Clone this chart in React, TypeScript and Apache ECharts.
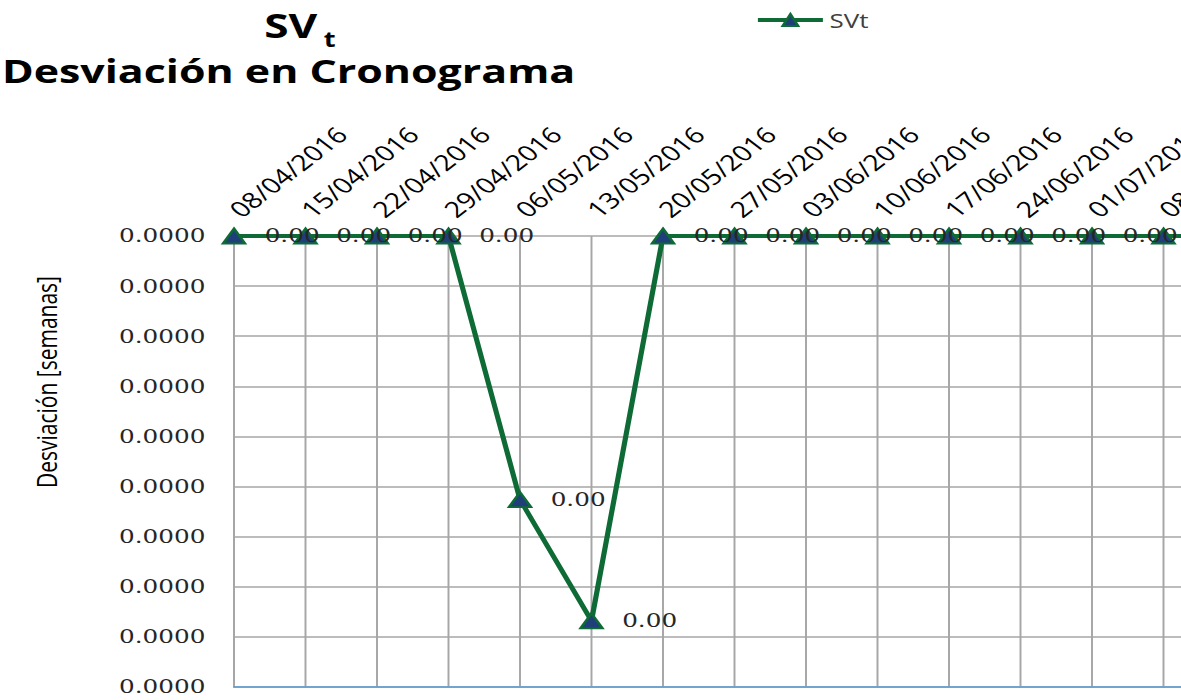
import React, { useEffect, useRef } from "react";
import * as echarts from "echarts";

const categories = [
  "08/04/2016", "15/04/2016", "22/04/2016", "29/04/2016", "06/05/2016",
  "13/05/2016", "20/05/2016", "27/05/2016", "03/06/2016", "10/06/2016",
  "17/06/2016", "24/06/2016", "01/07/2016", "08/07/2016", "15/07/2016",
];
const svtValues = [0, 0, 0, 0, -0.0000263, -0.0000384, 0, 0, 0, 0, 0, 0, 0, 0, 0];
const yMin = -0.000045;
const yMax = 0;
const yInterval = 0.000005;
const seriesName = "SVt";
const titleMain = "SV";
const titleSub = "t";
const titleLine2 = "Desviación en Cronograma";
const yAxisTitle = "Desviación [semanas]";

const S = 1.3; // horizontal stretch of the reference picture

export default function App() {
  const ref = useRef<HTMLDivElement>(null);
  useEffect(() => {
    if (!ref.current) return;
    const chart = echarts.init(ref.current, undefined, { renderer: "svg" });
    const green = "#0f6b36";
    const blue = "#1f3f7a";
    chart.setOption({
      animation: false,
      backgroundColor: "#fff",
      legend: {
        left: 581,
        top: 10,
        padding: 0,
        itemWidth: 50,
        itemHeight: 15,
        itemGap: 4,
        data: [seriesName],
        lineStyle: { width: 4 },
        textStyle: { fontFamily: "Open Sans", fontSize: 20, color: "#404040" },
      },
      graphic: [
        {
          type: "text",
          x: 244,
          y: 25,
          style: {
            text: titleMain,
            fontFamily: "Open Sans",
            fontWeight: "bold",
            fontSize: 34,
            fill: "#000",
            textAlign: "right",
            textVerticalAlign: "middle",
          },
        },
        {
          type: "text",
          x: 249,
          y: 39,
          style: {
            text: titleSub,
            fontFamily: "Open Sans",
            fontWeight: "bold",
            fontSize: 21,
            fill: "#000",
            textAlign: "left",
            textVerticalAlign: "middle",
          },
        },
        {
          type: "text",
          x: 222,
          y: 70,
          style: {
            text: titleLine2,
            fontFamily: "Open Sans",
            fontWeight: "bold",
            fontSize: 33,
            fill: "#000",
            textAlign: "center",
            textVerticalAlign: "middle",
          },
        },
        {
          type: "text",
          x: 36,
          y: 382,
          rotation: Math.PI / 2,
          style: {
            text: yAxisTitle,
            fontFamily: "Open Sans",
            fontSize: 21,
            fill: "#000",
            textAlign: "center",
            textVerticalAlign: "middle",
          },
        },
      ],
      grid: {
        left: 180,
        right: 50,
        top: 236,
        bottom: 13,
        containLabel: false,
        outerBoundsMode: "none",
      },
      xAxis: [
        {
          type: "category",
          position: "top",
          data: categories,
          boundaryGap: false,
          axisLine: { show: false },
          axisTick: { show: false },
          axisLabel: {
            interval: 0,
            rotate: 45,
            margin: 23,
            fontFamily: "Open Sans",
            fontSize: 22,
            color: "#000",
          },
          splitLine: { show: true, lineStyle: { color: "#a6a6a6", width: 1.5 } },
        },
        {
          type: "category",
          position: "bottom",
          data: categories,
          boundaryGap: false,
          axisLine: { show: true, lineStyle: { color: "#5b9bd5", width: 1.5 } },
          axisTick: { show: false },
          axisLabel: { show: false },
          splitLine: { show: false },
        },
      ],
      yAxis: {
        type: "value",
        min: yMin,
        max: yMax,
        interval: yInterval,
        axisLine: { show: true, lineStyle: { color: "#a6a6a6", width: 1.5 } },
        axisTick: { show: false },
        axisLabel: {
          margin: 22,
          fontFamily: "DejaVu Serif",
          fontSize: 19,
          color: "#262626",
          formatter: (v: number) => Math.abs(v).toFixed(4),
        },
        splitLine: { show: true, lineStyle: { color: "#a6a6a6", width: 1.5 } },
      },
      series: [
        {
          name: seriesName,
          type: "line",
          data: svtValues,
          xAxisIndex: 0,
          symbol: "triangle",
          symbolSize: [17, 15],
          lineStyle: { color: green, width: 4 },
          itemStyle: { color: blue, borderColor: green, borderWidth: 2 },
          label: {
            show: true,
            position: "right",
            distance: 14,
            fontFamily: "DejaVu Serif",
            fontSize: 19,
            color: "#262626",
            formatter: (p: any) => Math.abs(p.value).toFixed(2),
          },
        },
      ],
    });
    return () => chart.dispose();
  }, []);
  return (
    <div
      style={{
        position: "fixed",
        left: 0,
        top: 0,
        width: 1181,
        height: 700,
        overflow: "hidden",
        background: "#fff",
      }}
    >
      <div
        ref={ref}
        style={{
          width: 1000,
          height: 700,
          transform: `scaleX(${S})`,
          transformOrigin: "0 0",
        }}
      />
    </div>
  );
}
